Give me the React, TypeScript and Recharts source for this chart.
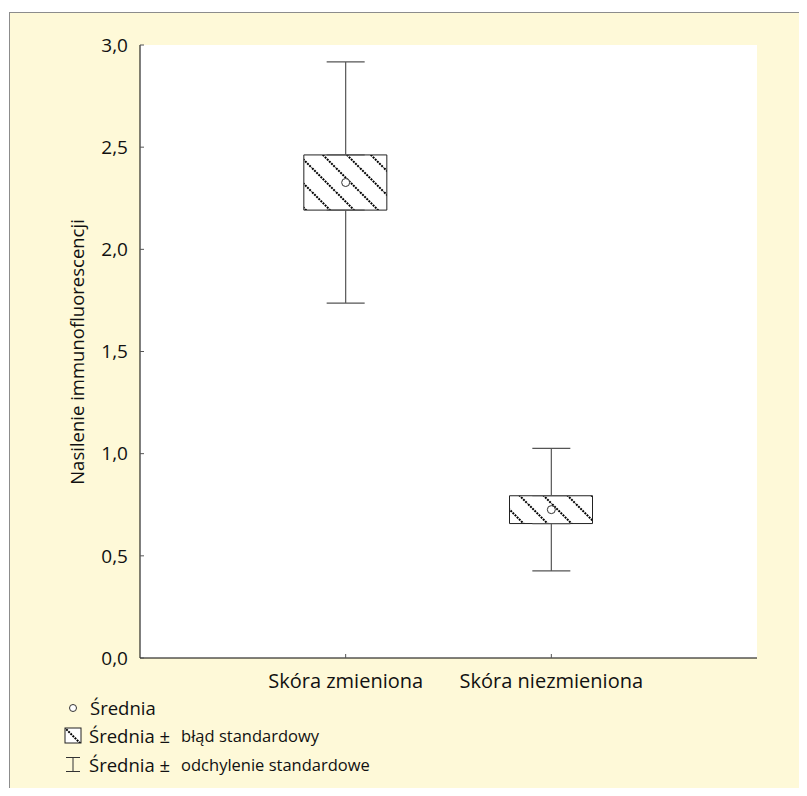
import React from "react";
import {
  ComposedChart,
  Bar,
  Scatter,
  ErrorBar,
  XAxis,
  YAxis,
  CartesianGrid,
  Label,
} from "recharts";

const categories = ["Skóra zmieniona", "Skóra niezmieniona"];
const means = [2.327, 0.726];
const stdErrors = [0.135, 0.068];
const stdDevs = [0.59, 0.3];
const yTicks = [0, 0.5, 1, 1.5, 2, 2.5, 3];

// whiskers are split at the box edges so the box hides nothing
const data = categories.map((name, i) => ({
  x: i + 1,
  name,
  mean: means[i],
  se: [means[i] - stdErrors[i], means[i] + stdErrors[i]],
  boxTop: means[i] + stdErrors[i],
  boxBottom: means[i] - stdErrors[i],
  upWhisker: [0, stdDevs[i] - stdErrors[i]],
  downWhisker: [stdDevs[i] - stdErrors[i], 0],
}));

const FONT = "'Open Sans', 'DejaVu Sans', sans-serif";
const CREAM = "#fef9d8";

const fmt = (v: number) => v.toFixed(1).replace(".", ",");

function HatchDefs({ id }: { id: string }) {
  return (
    <pattern id={id} patternUnits="userSpaceOnUse" width={24} height={24}>
      <rect width={24} height={24} fill="#fff" />
      <path
        d="M-2,-2 L26,26 M-2,22 L2,26 M22,-2 L26,2"
        stroke="#000"
        strokeWidth={2}
        strokeDasharray="2 1"
      />
    </pattern>
  );
}

const MeanDot = (props: any) => {
  const { cx, cy } = props;
  return <circle cx={cx} cy={cy} r={4} fill="#fff" stroke="#333" strokeWidth={1} />;
};

const NoDot = () => <g />;

function Legend() {
  const big = { fontSize: 18.5, color: "#111" };
  const small = { fontSize: 16.5, color: "#111" };
  return (
    <div style={{ position: "absolute", left: 0, top: 0, fontFamily: FONT }}>
      <div style={{ position: "absolute", left: 68, top: 695, display: "flex", alignItems: "center", whiteSpace: "nowrap" }}>
        <svg width={10} height={10} style={{ marginRight: 12 }}>
          <circle cx={5} cy={5} r={3.5} fill="#fff" stroke="#333" />
        </svg>
        <span style={big}>Średnia</span>
      </div>
      <div style={{ position: "absolute", left: 64, top: 723, display: "flex", alignItems: "center", whiteSpace: "nowrap" }}>
        <svg width={19} height={17} style={{ marginRight: 6 }}>
          <defs>
            <HatchDefs id="hatchLegend" />
          </defs>
          <rect x={1} y={1} width={16} height={15} fill="url(#hatchLegend)" stroke="#222" />
        </svg>
        <span style={big}>Średnia ±</span>
        <span style={{ ...small, marginLeft: 11 }}>błąd standardowy</span>
      </div>
      <div style={{ position: "absolute", left: 64, top: 752, display: "flex", alignItems: "center", whiteSpace: "nowrap" }}>
        <svg width={19} height={17} style={{ marginRight: 6 }}>
          <path d="M2,1.5 L16,1.5 M9,1.5 L9,15.5 M2,15.5 L16,15.5" stroke="#333" fill="none" />
        </svg>
        <span style={big}>Średnia ±</span>
        <span style={{ ...small, marginLeft: 11 }}>odchylenie standardowe</span>
      </div>
    </div>
  );
}

export default function App() {
  return (
    <div style={{ position: "relative", width: 807, height: 796, margin: -8, background: "#fff", overflow: "hidden" }}>
      <div
        style={{
          position: "absolute",
          left: 9,
          top: 12,
          right: 0,
          bottom: 0,
          background: CREAM,
          borderLeft: "1px solid #8c8c8c",
          borderTop: "1px solid #8c8c8c",
        }}
      />
      <div style={{ position: "absolute", left: 0, top: 0 }}>
        <ComposedChart
          width={807}
          height={796}
          data={data}
          margin={{ top: 45, right: 50, bottom: 98, left: 80 }}
          style={{ fontFamily: FONT }}
        >
          <defs>
            <HatchDefs id="hatch" />
          </defs>
          <CartesianGrid horizontal={false} vertical={false} fill="#fff" />
          <XAxis
            xAxisId="main"
            type="number"
            dataKey="x"
            domain={[0, 3]}
            ticks={[1, 2]}
            tickFormatter={(v: number) => categories[v - 1] ?? ""}
            height={40}
            tickSize={-4}
            tickMargin={20}
            axisLine={{ stroke: "#000" }}
            tickLine={{ stroke: "#555" }}
            tick={{ fill: "#111", fontSize: 20 }}
          />
          <XAxis
            xAxisId="top"
            orientation="top"
            type="number"
            domain={[0, 3]}
            height={0}
            tick={false}
            tickLine={false}
            axisLine={{ stroke: "#777" }}
          />
          <YAxis
            yAxisId="main"
            type="number"
            domain={[0, 3]}
            ticks={yTicks}
            tickFormatter={fmt}
            width={60}
            tickSize={-4}
            tickMargin={16}
            axisLine={{ stroke: "#000" }}
            tickLine={{ stroke: "#555" }}
            tick={{ fill: "#111", fontSize: 19 }}
          >
            <Label
              content={() => (
                <text
                  x={76}
                  y={352}
                  transform="rotate(-90 76 352)"
                  textAnchor="middle"
                  dominantBaseline="central"
                  fontSize={18.5}
                  fill="#111"
                  fontFamily={FONT}
                >
                  Nasilenie immunofluorescencji
                </text>
              )}
            />
          </YAxis>
          <YAxis
            yAxisId="right"
            orientation="right"
            type="number"
            domain={[0, 3]}
            width={0}
            tick={false}
            tickLine={false}
            axisLine={{ stroke: "#777" }}
          />
          <Bar
            xAxisId="main"
            yAxisId="main"
            dataKey="se"
            barSize={83}
            fill="url(#hatch)"
            stroke="#222"
            strokeWidth={1}
            isAnimationActive={false}
          />
          <Scatter
            xAxisId="main"
            yAxisId="main"
            dataKey="boxTop"
            shape={NoDot}
            isAnimationActive={false}
          >
            <ErrorBar dataKey="upWhisker" direction="y" width={19} stroke="#555" strokeWidth={1.2} isAnimationActive={false} />
          </Scatter>
          <Scatter
            xAxisId="main"
            yAxisId="main"
            dataKey="boxBottom"
            shape={NoDot}
            isAnimationActive={false}
          >
            <ErrorBar dataKey="downWhisker" direction="y" width={19} stroke="#555" strokeWidth={1.2} isAnimationActive={false} />
          </Scatter>
          <Scatter
            xAxisId="main"
            yAxisId="main"
            dataKey="mean"
            shape={MeanDot}
            isAnimationActive={false}
          />
        </ComposedChart>
      </div>
      <Legend />
    </div>
  );
}
